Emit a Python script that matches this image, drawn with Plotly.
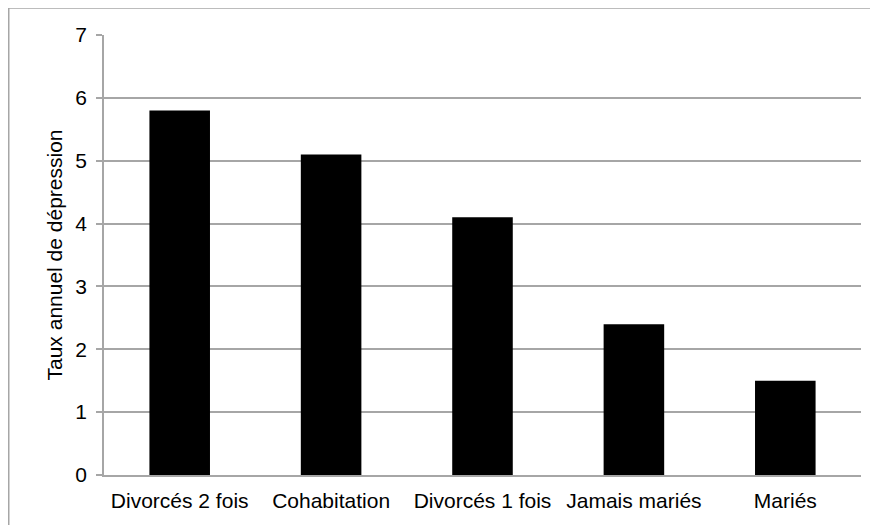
import plotly.graph_objects as go

categories = ["Divorcés 2 fois", "Cohabitation", "Divorcés 1 fois", "Jamais mariés", "Mariés"]
values = [5.8, 5.1, 4.1, 2.4, 1.5]
y_ticks = [0, 1, 2, 3, 4, 5, 6, 7]
y_title = "Taux annuel de dépression"

# page has an 8px body margin; figure origin sits at (8, 8) of the window
W, H = 870, 517
L, R, T, B = 96, 17, 27, 50
pw, ph = W - L - R, H - T - B

def px_x(p):
    return (p - L) / pw

def px_y(p):
    return (H - B - p) / ph

grid = "#a6a6a6"
font = dict(family="Liberation Sans, Arial, sans-serif", size=21, color="#000000")

fig = go.Figure(go.Bar(x=categories, y=values, marker=dict(color="#000000", line=dict(width=0)), width=0.4))

fig.update_layout(
    width=W, height=H,
    margin=dict(l=L, r=R, t=T, b=B, pad=0),
    paper_bgcolor="white", plot_bgcolor="white",
    font=font, showlegend=False,
    bargap=0.6,
)
fig.update_xaxes(
    showgrid=False, showline=True, linecolor=grid, linewidth=1.5,
    ticks="", tickfont=font, ticklabelstandoff=6,
)
fig.update_yaxes(
    range=[0, 7], tickvals=y_ticks, showgrid=True, gridcolor=grid, gridwidth=1.5,
    showline=True, linecolor=grid, linewidth=1.5, ticks="outside", ticklen=6,
    tickcolor=grid, tickwidth=1.5, tickfont=font, zeroline=False, ticklabelstandoff=5,
    title=dict(text=y_title, font=font, standoff=7),
)
fig.add_shape(
    type="rect", xref="paper", yref="paper",
    x0=px_x(0.75), x1=px_x(W + 20), y0=px_y(H + 20), y1=px_y(0.0),
    line=dict(color="#a6a6a6", width=1.5), fillcolor="rgba(0,0,0,0)", layer="above",
)
fig.write_html("out.html")
